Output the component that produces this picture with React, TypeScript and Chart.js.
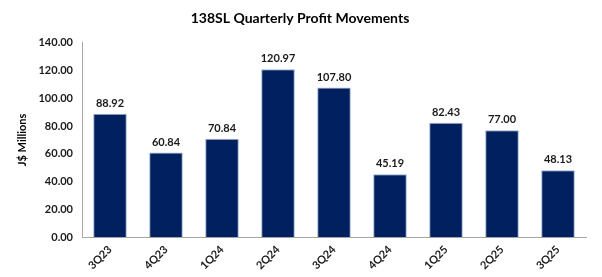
import React, { useEffect, useRef } from "react";
import { Chart, registerables } from "chart.js";

Chart.register(...registerables);

const categories = ["3Q23", "4Q23", "1Q24", "2Q24", "3Q24", "4Q24", "1Q25", "2Q25", "3Q25"];
const profits = [88.92, 60.84, 70.84, 120.97, 107.8, 45.19, 82.43, 77.0, 48.13];
const titleText = "138SL Quarterly Profit Movements";
const yTitle = "J$ Millions";

const FONT = "Lato, 'Open Sans', sans-serif";

const valueLabels = {
  id: "valueLabels",
  afterDatasetsDraw(chart: any) {
    const ctx = chart.ctx;
    const meta = chart.getDatasetMeta(0);
    ctx.save();
    ctx.font = `bold 11px ${FONT}`;
    ctx.fillStyle = "#1a1a1a";
    ctx.textAlign = "center";
    ctx.textBaseline = "bottom";
    meta.data.forEach((bar: any, i: number) => {
      const v = chart.data.datasets[0].data[i] as number;
      ctx.fillText(v.toFixed(2), bar.x, bar.y - 5);
    });
    ctx.restore();
  },
};

export default function App() {
  const ref = useRef<HTMLCanvasElement>(null);
  useEffect(() => {
    document.body.style.margin = "0";
    const chart = new Chart(ref.current!, {
      type: "bar",
      data: {
        labels: categories,
        datasets: [
          {
            data: profits,
            backgroundColor: "#002060",
            borderColor: "#9DB0D3",
            borderWidth: 1,
            barPercentage: 0.6,
            categoryPercentage: 1,
          },
        ],
      },
      options: {
        animation: false,
        responsive: false,
        maintainAspectRatio: false,
        layout: { padding: { left: 14, right: 16, top: 0, bottom: 0 } },
        plugins: {
          legend: { display: false },
          tooltip: { enabled: false },
          title: {
            display: true,
            text: titleText,
            color: "#000",
            font: { family: FONT, size: 14, weight: "bold" },
            padding: { top: 10, bottom: 16 },
          },
        },
        scales: {
          x: {
            grid: { display: false, drawTicks: false },
            border: { display: true, color: "#A6A6A6", width: 1 },
            ticks: {
              color: "#1a1a1a",
              font: { family: FONT, size: 11, weight: "bold" },
              maxRotation: 45,
              minRotation: 45,
              padding: 6,
            },
            afterFit: (s: any) => {
              s.height = 40;
            },
          },
          y: {
            min: 0,
            max: 140,
            grid: { display: false, drawTicks: false },
            border: { display: true, color: "#A6A6A6", width: 1 },
            ticks: {
              stepSize: 20,
              color: "#1a1a1a",
              font: { family: FONT, size: 11, weight: "bold" },
              padding: 9,
              callback: (v: any) => Number(v).toFixed(2),
            },
            title: {
              display: true,
              text: yTitle,
              color: "#000",
              font: { family: FONT, size: 11, weight: "bold" },
              padding: { top: 2, bottom: 0 },
            },
            afterFit: (s: any) => {
              s.width = 68;
            },
          },
        },
      },
      plugins: [valueLabels],
    });
    return () => chart.destroy();
  }, []);
  return (
    <div style={{ width: 602, height: 277, background: "#fff" }}>
      <canvas ref={ref} width={602} height={277} />
    </div>
  );
}
